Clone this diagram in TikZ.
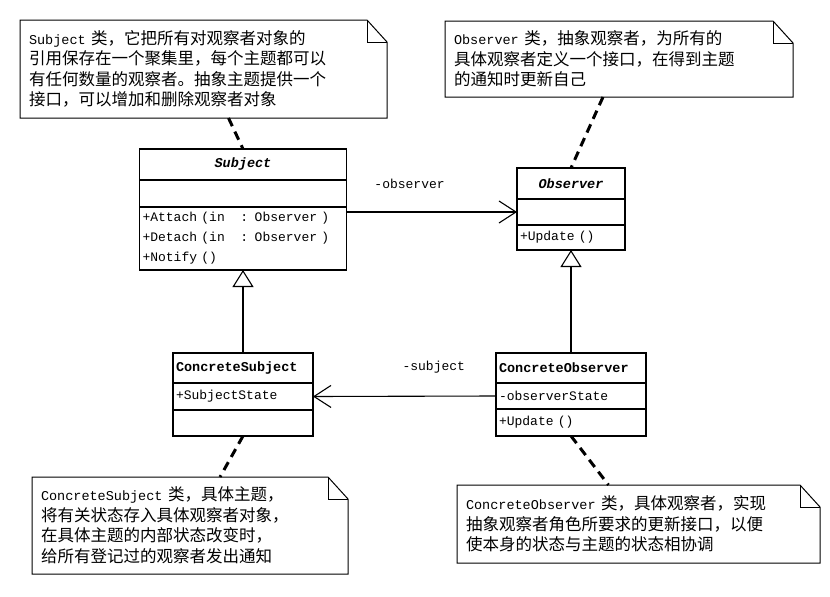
\documentclass[tikz,border=0pt]{standalone}
\usepackage{fontspec}
\setmainfont{Noto Sans CJK SC}
\newfontfamily\lat{Liberation Mono}
\usetikzlibrary{positioning,arrows.meta}

\newcommand\en[1]{{\lat\fontsize{13.5}{20.5}\selectfont #1}}
\newcommand\notefold[1]{%
  \draw[line width=1pt] (#1.north west) -- ([xshift=-20pt]#1.north east) -- ([yshift=-22pt]#1.north east) -- (#1.south east) -- (#1.south west) -- cycle;
  \draw[line width=1pt] ([xshift=-20pt]#1.north east) |- ([yshift=-22pt]#1.north east);}

\begin{document}
\begin{tikzpicture}[x=1pt, y=-1pt,
    box/.style={draw, line width=1.1pt, outer sep=0pt, inner xsep=3pt, inner ysep=0pt, align=left,
      font=\lat\fontsize{13}{20}\selectfont},
    clsname/.style={box, font=\lat\fontsize{13.5}{20}\selectfont\bfseries},
    note/.style={inner xsep=9pt, inner ysep=0pt, outer sep=0pt, align=left, font=\fontsize{16.5}{20.5}\selectfont},
    lbl/.style={font=\lat\fontsize{13}{15}\selectfont},
    assoc/.style={line width=1.1pt, -{Straight Barb[length=17pt,width=22pt]}},
    inherit/.style={line width=1.1pt, -{Triangle[open,length=17pt,width=21pt]}},
    notelink/.style={line width=3pt, dash pattern=on 9pt off 6pt}]
    \useasboundingbox (0,0) rectangle (830,597);

    % classes
    \node[clsname, text width=201pt, minimum height=31pt, align=center, anchor=north, font=\lat\fontsize{13.5}{20}\selectfont\bfseries\itshape] (subj) at (243,149) {Subject};
    \node[box, text width=201pt, minimum height=27pt, below=0pt of subj] (subjattr) {};
    \node[box, text width=201pt, minimum height=63pt, below=0pt of subjattr] (subjops) {+Attach (in\phantom{x}\phantom{x}: Observer )\\+Detach (in\phantom{x}\phantom{x}: Observer )\\+Notify ()};

    \node[clsname, text width=102pt, minimum height=31pt, align=center, anchor=north, font=\lat\fontsize{13.5}{20}\selectfont\bfseries\itshape] (obs) at (571,168) {Observer};
    \node[box, text width=102pt, minimum height=26pt, below=0pt of obs] (obsattr) {};
    \node[box, text width=102pt, minimum height=25pt, below=0pt of obsattr] (obsops) {+Update ()};

    \node[clsname, text width=134pt, minimum height=30pt, anchor=north] (csubj) at (243,353) {ConcreteSubject};
    \node[box, text width=134pt, minimum height=27pt, below=0pt of csubj] (csubjattr) {+SubjectState};
    \node[box, text width=134pt, minimum height=26pt, below=0pt of csubjattr] (csubjops) {};

    \node[clsname, text width=144pt, minimum height=30pt, anchor=north] (cobs) at (571,353) {ConcreteObserver};
    \node[box, text width=144pt, minimum height=26pt, below=0pt of cobs] (cobsattr) {-observerState};
    \node[box, text width=144pt, minimum height=27pt, below=0pt of cobsattr] (cobsops) {+Update ()};

    % notes
    \node[note, minimum width=367pt, minimum height=98pt, text width=349pt] (subjnote) at (203.5,69)
        {\en{Subject} 类，它把所有对观察者对象的\\引用保存在一个聚集里，每个主题都可以\\有任何数量的观察者。抽象主题提供一个\\接口，可以增加和删除观察者对象};
    \notefold{subjnote}
    \node[note, minimum width=348pt, minimum height=76pt, text width=330pt] (obsnote) at (619,59)
        {\en{Observer} 类，抽象观察者，为所有的\\具体观察者定义一个接口，在得到主题\\的通知时更新自己};
    \notefold{obsnote}
    \node[note, minimum width=316pt, minimum height=97pt, text width=298pt] (csubjnote) at (190,525.5)
        {\en{ConcreteSubject} 类，具体主题，\\将有关状态存入具体观察者对象，\\在具体主题的内部状态改变时，\\给所有登记过的观察者发出通知};
    \notefold{csubjnote}
    \node[note, minimum width=363pt, minimum height=78pt, text width=345pt] (cobsnote) at (638.5,524)
        {\en{ConcreteObserver} 类，具体观察者，实现\\抽象观察者角色所要求的更新接口，以便\\使本身的状态与主题的状态相协调};
    \notefold{cobsnote}

    % relations
    \draw[assoc] (subjops.east |- obsattr.west) -- (obsattr.west) node[pos=0.37, above=19pt, lbl]{-observer};
    \draw[assoc] (cobsattr.west) -- (csubjattr.east) node[pos=0.34, above=19pt, lbl]{-subject};
    \draw[inherit] (csubj.north) -- (subjops.south);
    \draw[inherit] (cobs.north) -- (obsops.south);

    \draw[notelink] ([xshift=25pt]subjnote.south) -- (subj.north);
    \draw[notelink] ([xshift=-16pt]obsnote.south) -- (obs.north);
    \draw[notelink] (csubjops.south) -- ([xshift=30pt]csubjnote.north);
    \draw[notelink] (cobsops.south) -- ([xshift=-30pt]cobsnote.north);
\end{tikzpicture}
\end{document}
